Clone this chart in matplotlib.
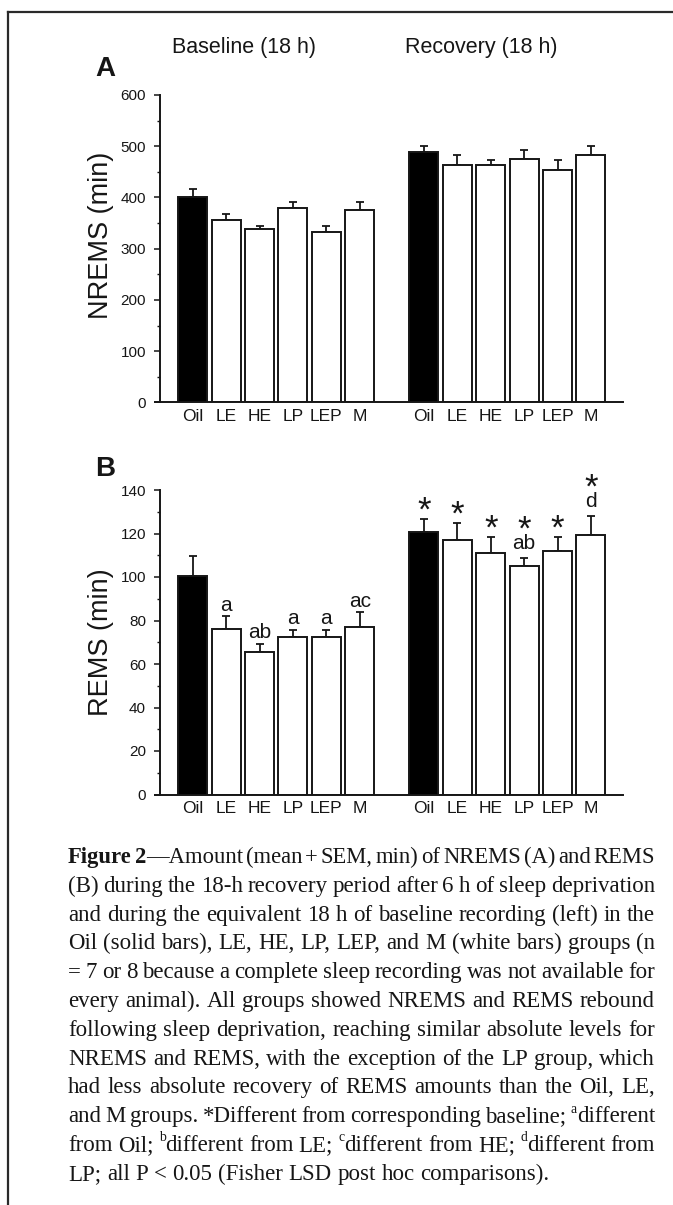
import re

import matplotlib
matplotlib.use("Agg")
import matplotlib.pyplot as plt
from matplotlib.lines import Line2D
from matplotlib.ticker import MultipleLocator

# --- data -----------------------------------------------------------------
groups = ["Oil", "LE", "HE", "LP", "LEP", "M"]

nrems_base = [401, 357, 338, 379, 332, 376]
nrems_base_sem = [16, 10, 7, 13, 13, 16]
nrems_rec = [489, 463, 463, 476, 454, 482]
nrems_rec_sem = [12, 20, 10, 16, 19, 19]

rems_base = [100.5, 76, 65.5, 72.5, 72.5, 77]
rems_base_sem = [9, 6, 3.7, 3.3, 3.3, 6.7]
rems_rec = [120.5, 117, 111, 105, 112, 119.5]
rems_rec_sem = [6, 8, 7.3, 3.8, 6.5, 8.7]

rems_base_letters = ["", "a", "ab", "a", "a", "ac"]
rems_rec_letters = ["", "", "", "ab", "", "d"]
rems_rec_stars = ["*", "*", "*", "*", "*", "*"]

caption = [
    "**Figure** **2**—Amount (mean + SEM, min) of NREMS (A) and REMS",
    "(B) during the 18-h recovery period after 6 h of sleep deprivation",
    "and during the equivalent 18 h of baseline recording (left) in the",
    "Oil (solid bars), LE, HE, LP, LEP, and M (white bars) groups (n",
    "= 7 or 8 because a complete sleep recording was not available for",
    "every animal). All groups showed NREMS and REMS rebound",
    "following sleep deprivation, reaching similar absolute levels for",
    "NREMS and REMS, with the exception of the LP group, which",
    "had less absolute recovery of REMS amounts than the Oil, LE,",
    "and M groups. *Different from corresponding baseline; ^adifferent",
    "from Oil; ^bdifferent from LE; ^cdifferent from HE; ^ddifferent from",
    "LP; all P < 0.05 (Fisher LSD post hoc comparisons).",
]

W, H = 673, 1205
SANS = "Liberation Sans"
SERIF = "Liberation Serif"
INK = "#161616"
plt.rcParams["font.family"] = SANS


def fx(px):
    return px / W


def fy(py):
    return 1 - py / H


fig = plt.figure(figsize=(W / 100, H / 100), dpi=100)

# page rules (top and left)
fig.add_artist(Line2D([fx(8), 1], [fy(12), fy(12)], color="#2a2a2a", lw=1.6))
fig.add_artist(Line2D([fx(8), fx(8)], [fy(12), 0], color="#2a2a2a", lw=1.6))

base_x = list(range(6))
rec_x = [6.92 + i for i in range(6)]
all_x = base_x + rec_x
bar_w = 0.87
x_spine = -0.98
xlim = (-1.13, 12.88)
ax_left, ax_right = 155, 623


def make_axes(top_px, bottom_px, ymax, major, minor, ylabel, label_y):
    ax = fig.add_axes([fx(ax_left), fy(bottom_px), (ax_right - ax_left) / W,
                       (bottom_px - top_px) / H])
    ax.set_xlim(*xlim)
    ax.set_ylim(0, ymax)
    for s in ("top", "right"):
        ax.spines[s].set_visible(False)
    ax.spines["left"].set_position(("data", x_spine))
    for s in ("left", "bottom"):
        ax.spines[s].set_linewidth(1.4)
        ax.spines[s].set_color(INK)
    ax.yaxis.set_major_locator(MultipleLocator(major))
    ax.yaxis.set_minor_locator(MultipleLocator(minor))
    ax.tick_params(axis="y", which="major", length=4, width=1.1, pad=6,
                   labelsize=11, colors=INK)
    ax.tick_params(axis="y", which="minor", length=2.5, width=1.0, colors=INK)
    ax.set_xticks(all_x)
    ax.set_xticklabels(groups + groups)
    ax.tick_params(axis="x", length=0, pad=5, labelsize=12.5, colors=INK)
    ax.set_ylabel(ylabel, fontsize=19.5, color=INK)
    ax.yaxis.set_label_coords((101 - ax_left) / (ax_right - ax_left), label_y)
    ax.yaxis.label.set_va("center")
    return ax


def draw_bars(ax, base, base_sem, rec, rec_sem):
    colors = ["black"] + ["white"] * 5
    for xs, vals, sem in ((base_x, base, base_sem), (rec_x, rec, rec_sem)):
        ax.bar(xs, vals, width=bar_w, color=colors, edgecolor=INK,
               linewidth=1.4, zorder=2)
        ax.errorbar(xs, vals, yerr=[[0] * len(vals), sem], fmt="none",
                    ecolor=INK, elinewidth=1.3, capsize=3, capthick=1.3,
                    zorder=1)


# Panel A
axA = make_axes(95, 402.5, 600, 100, 50, "NREMS (min)", 0.545)
draw_bars(axA, nrems_base, nrems_base_sem, nrems_rec, nrems_rec_sem)

# Panel B
axB = make_axes(490, 794.5, 140, 20, 10, "REMS (min)", 0.5)
draw_bars(axB, rems_base, rems_base_sem, rems_rec, rems_rec_sem)


def annotate(ax, x, y, text, dy_px, size):
    ax.annotate(text, (x, y), xytext=(0, dy_px * 0.72), textcoords="offset points",
                ha="center", va="center", fontsize=size, color=INK)


for x, v, s, lab in zip(base_x, rems_base, rems_base_sem, rems_base_letters):
    if lab:
        annotate(axB, x, v + s, lab, 11, 15)
for x, v, s, lab, st in zip(rec_x, rems_rec, rems_rec_sem, rems_rec_letters,
                            rems_rec_stars):
    if lab:
        annotate(axB, x, v + s, lab, 14, 15)
        annotate(axB, x, v + s, st, 28, 25)
    else:
        annotate(axB, x, v + s, st, 8, 25)

# headers and panel letters
fig.text(fx(172), fy(47), "Baseline (18 h)", fontsize=15.5, ha="left", va="center",
         color=INK)
fig.text(fx(405), fy(47), "Recovery (18 h)", fontsize=15.5, ha="left", va="center",
         color=INK)
fig.text(fx(95), fy(69), "A", fontsize=20, fontweight="bold", ha="left", va="center",
         color=INK)
fig.text(fx(95), fy(469), "B", fontsize=20, fontweight="bold", ha="left", va="center",
         color=INK)

# caption, justified like the journal layout
renderer = fig.canvas.get_renderer()
cap_left, cap_right = 68, 655
cap_top, cap_step = 857, 28.8
cap_size = 16.5


def parse_word(word):
    segs = []
    for part in re.split(r"(\*\*.+?\*\*|\^.)", word):
        if not part:
            continue
        if part.startswith("**") and part.endswith("**") and len(part) > 4:
            segs.append((part[2:-2], "bold", False))
        elif part.startswith("^") and len(part) == 2:
            segs.append((part[1], "normal", True))
        else:
            segs.append((part, "normal", False))
    return segs


def place_word(segs, x_px, y_px, size):
    x = x_px
    for txt, weight, sup in segs:
        fs = size * 0.6 if sup else size
        yy = y_px - 0.42 * size / 0.72 if sup else y_px
        t = fig.text(fx(x), fy(yy), txt, fontsize=fs, fontweight=weight,
                     family=SERIF, ha="left", va="baseline", color=INK)
        x += t.get_window_extent(renderer).width


def word_width(segs, size):
    w = 0
    for txt, weight, sup in segs:
        fs = size * 0.6 if sup else size
        t = fig.text(0, 0, txt, fontsize=fs, fontweight=weight, family=SERIF)
        w += t.get_window_extent(renderer).width
        t.remove()
    return w


for i, line in enumerate(caption):
    y = cap_top + i * cap_step + 6
    words = [parse_word(w) for w in line.split(" ")]
    size = cap_size
    widths = [word_width(w, size) for w in words]
    # shrink a line only if it cannot fit with a minimal word gap
    while sum(widths) + 2.5 * (len(words) - 1) > cap_right - cap_left:
        size -= 0.25
        widths = [word_width(w, size) for w in words]
    last = i == len(caption) - 1
    if last:
        gap = size * 0.25 / 0.72
    else:
        gap = (cap_right - cap_left - sum(widths)) / (len(words) - 1)
    x = cap_left
    for segs, w in zip(words, widths):
        place_word(segs, x, y, size)
        x += w + gap

fig.savefig("out.png", dpi=100)
